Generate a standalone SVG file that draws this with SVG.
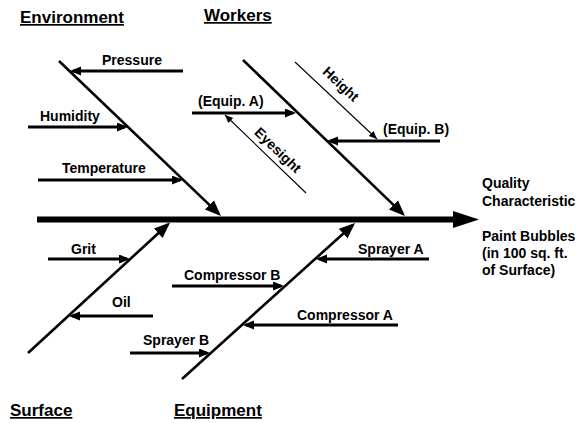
<svg xmlns="http://www.w3.org/2000/svg" width="579" height="423" viewBox="0 0 579 423">
<style>
text{font-family:"Liberation Sans",Arial,sans-serif;font-weight:bold;fill:#000}
.lbl{font-size:14px}
.hdr{font-size:17px;text-decoration:underline}
.arr{stroke:#000;stroke-width:3;fill:none;marker-end:url(#ah)}
.bone{stroke:#000;stroke-width:2.6;fill:none;marker-end:url(#bh)}
.thin{stroke:#000;stroke-width:1.1;fill:none;marker-end:url(#sh)}
</style>
<defs>
<marker id="ah" markerUnits="userSpaceOnUse" markerWidth="12" markerHeight="10" refX="8" refY="4.5" orient="auto"><path d="M0,0 L11,4.5 L0,9 z" fill="#000"/></marker>
<marker id="bh" markerUnits="userSpaceOnUse" markerWidth="17" markerHeight="14" refX="13" refY="6.5" orient="auto"><path d="M0,0 L16,6.5 L0,13 z" fill="#000"/></marker>
<marker id="sh" markerUnits="userSpaceOnUse" markerWidth="9" markerHeight="8" refX="8" refY="3.5" orient="auto"><path d="M0,0 L8,3.5 L0,7 z" fill="#000"/></marker>
</defs>
<g id="connectors">
<line x1="37" y1="219.5" x2="456" y2="219.5" stroke="#000" stroke-width="6"/>
<path d="M453,211 L479,219.5 L453,228 z" fill="#000"/>
<line class="bone" x1="59" y1="61" x2="218.8" y2="213.9"/>
<line class="bone" x1="243" y1="60" x2="402.8" y2="213.9"/>
<line class="bone" x1="28" y1="353" x2="167.8" y2="224.5"/>
<line class="bone" x1="182" y1="379" x2="352.8" y2="225"/>
<line class="arr" x1="183" y1="71" x2="73" y2="71"/>
<line class="arr" x1="28" y1="127" x2="125" y2="127"/>
<line class="arr" x1="38" y1="180" x2="180" y2="180"/>
<line class="arr" x1="192" y1="113" x2="293" y2="113"/>
<line class="arr" x1="440" y1="141" x2="330" y2="141"/>
<line class="arr" x1="48" y1="259" x2="127" y2="259"/>
<line class="arr" x1="153" y1="316" x2="72" y2="316"/>
<line class="arr" x1="429" y1="259" x2="319" y2="259"/>
<line class="arr" x1="172" y1="286" x2="281" y2="286"/>
<line class="arr" x1="398" y1="325" x2="246" y2="325"/>
<line class="arr" x1="130" y1="353" x2="207" y2="353"/>
<line class="thin" x1="306" y1="193" x2="225" y2="115"/>
<line class="thin" x1="295" y1="62" x2="377" y2="139"/>
</g>
<g id="environment"><text class="hdr" x="20" y="23">Environment</text></g>
<g id="workers"><text class="hdr" x="204" y="21">Workers</text></g>
<g id="surface"><text class="hdr" x="10" y="416">Surface</text></g>
<g id="equipment"><text class="hdr" x="174" y="416">Equipment</text></g>
<g id="pressure"><text class="lbl" x="102" y="65">Pressure</text></g>
<g id="humidity"><text class="lbl" x="40" y="121">Humidity</text></g>
<g id="temperature"><text class="lbl" x="62" y="173">Temperature</text></g>
<g id="equip-a"><text class="lbl" x="198" y="106">(Equip. A)</text></g>
<g id="equip-b"><text class="lbl" x="383" y="134">(Equip. B)</text></g>
<g id="eyesight"><text class="lbl" x="278" y="155" text-anchor="middle" transform="rotate(44 278 150)">Eyesight</text></g>
<g id="height"><text class="lbl" x="341" y="89" text-anchor="middle" transform="rotate(43 341 84)">Height</text></g>
<g id="grit"><text class="lbl" x="71" y="254">Grit</text></g>
<g id="oil"><text class="lbl" x="112" y="307">Oil</text></g>
<g id="sprayer-a"><text class="lbl" x="358" y="254">Sprayer A</text></g>
<g id="compressor-b"><text class="lbl" x="184" y="280">Compressor B</text></g>
<g id="compressor-a"><text class="lbl" x="297" y="320">Compressor A</text></g>
<g id="sprayer-b"><text class="lbl" x="143" y="345">Sprayer B</text></g>
<g id="quality"><text class="lbl" x="482" y="188">Quality</text><text class="lbl" x="482" y="206">Characteristic</text><text class="lbl" x="482" y="241">Paint Bubbles</text><text class="lbl" x="482" y="258">(in 100 sq. ft.</text><text class="lbl" x="482" y="275">of Surface)</text></g>
</svg>
